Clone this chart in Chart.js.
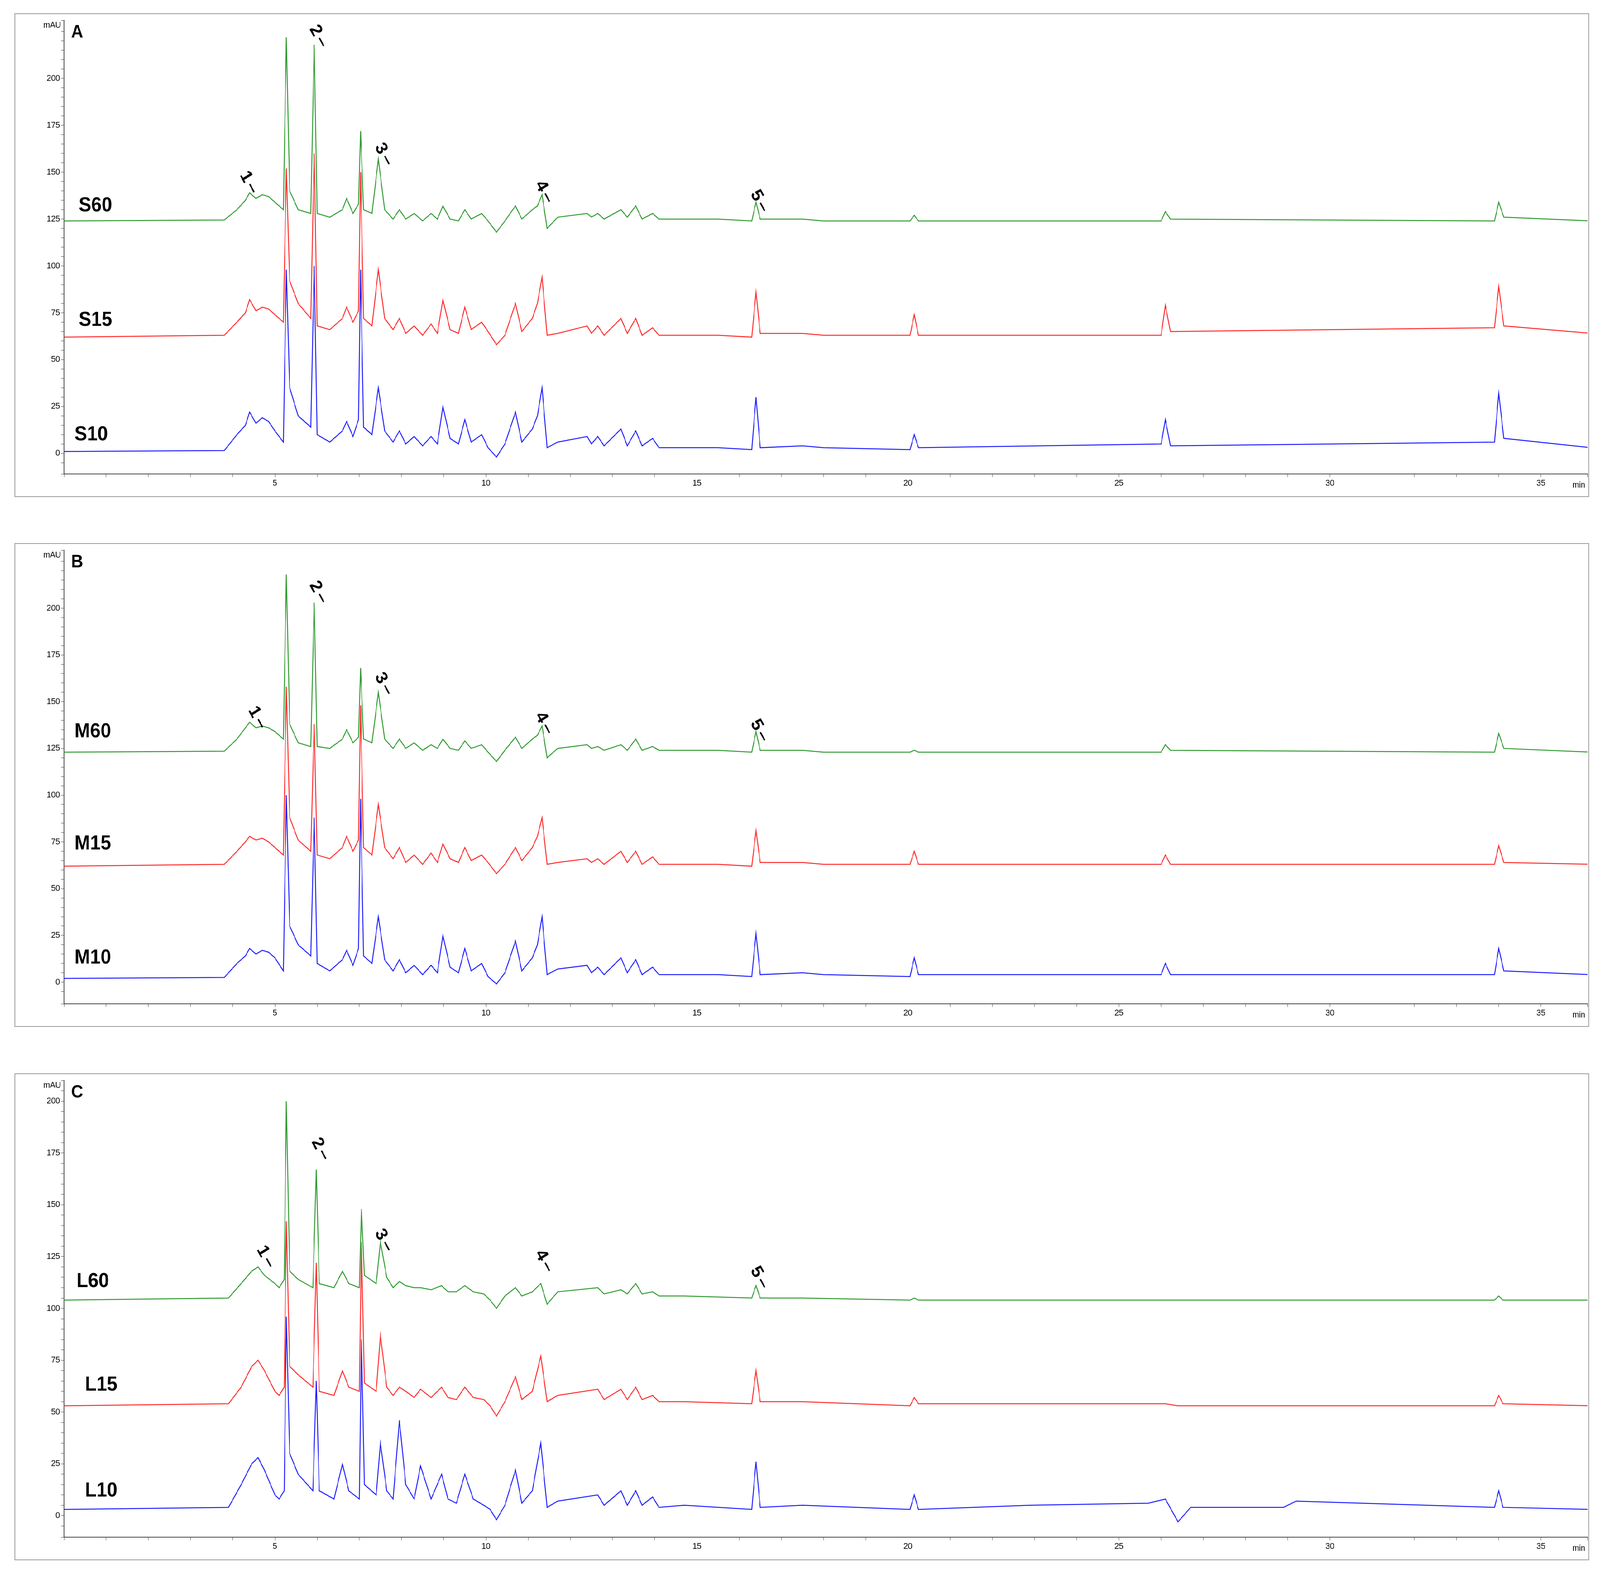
<!DOCTYPE html>
<html>
<head>
<meta charset="utf-8">
<script src="https://cdn.jsdelivr.net/npm/chart.js@4"></script>
<style>
  html, body { margin: 0; padding: 0; background: #fff; overflow: hidden; }
  #page { width: 4430px; height: 4018px; position: absolute; left: 0; top: 0; transform-origin: 0 0; }
  .panel { position: absolute; left: 40px; width: 4360px; border: 2px solid #999; box-sizing: border-box; }
  canvas { display: block; }
</style>
</head>
<body>
<div id="page">
<div class="panel" style="top:34px;height:1238px"><canvas id="chartA" width="4356" height="1234" style="width:4356px;height:1234px"></canvas></div>
<div class="panel" style="top:1390px;height:1238px"><canvas id="chartB" width="4356" height="1234" style="width:4356px;height:1234px"></canvas></div>
<div class="panel" style="top:2747px;height:1246px"><canvas id="chartC" width="4356" height="1242" style="width:4356px;height:1242px"></canvas></div>
</div>
<script>
'use strict';

// stretch the 4430x4018 page over whatever viewport we get
let page = document.getElementById('page');
page.style.transform = 'scale(' + (window.innerWidth / 4430) + ',' + (window.innerHeight / 4018) + ')';

// retention times (min) shared by panels A and B
let timesAB = [0,3.8,4.1,4.3,4.4,4.55,4.7,4.85,5.0,5.2,5.27,5.35,5.55,5.85,5.93,6.0,6.3,6.6,6.7,6.85,6.98,7.03,7.1,7.3,7.45,7.6,7.8,7.95,8.1,8.3,8.5,8.7,8.85,8.98,9.15,9.35,9.5,9.65,9.9,10.05,10.25,10.45,10.7,10.85,11.1,11.22,11.33,11.45,11.7,12.4,12.5,12.65,12.8,13.2,13.35,13.55,13.7,13.95,14.1,15.5,16.3,16.4,16.5,17.5,18,20.05,20.15,20.25,26.0,26.1,26.22,33.9,34.0,34.12,36.2];
// retention times for panel C
let timesC = [0,3.9,4.2,4.45,4.6,4.75,5.0,5.1,5.22,5.27,5.35,5.55,5.9,5.98,6.05,6.4,6.6,6.75,7.0,7.05,7.12,7.4,7.5,7.65,7.8,7.95,8.1,8.3,8.45,8.7,8.95,9.1,9.3,9.5,9.7,9.95,10.1,10.25,10.45,10.7,10.85,11.1,11.3,11.45,11.7,12.65,12.8,13.2,13.35,13.55,13.7,13.95,14.1,14.7,16.3,16.4,16.5,17.5,20.05,20.15,20.25,22.9,25.7,26.1,26.4,26.7,28.9,29.2,33.9,34.0,34.1,36.2];

// mAU values
let s10 = [1,1.5,10,15,22,16,19,17,12,6,98,35,20,14,100,10,6,12,17,9,18,98,14,10,35,12,6,12,5,9,4,9,5,25,8,5,18,6,10,3,-2,5,22,6,13,20,35,3,6,9,5,9,4,13,4,12,4,8,3,3,2,30,3,4,3,2,10,3,5,18,4,6,32,8,3];
let s15 = [62,63,70,75,82,76,78,77,74,70,152,92,80,72,160,68,66,72,78,70,76,150,72,68,98,72,66,72,64,68,63,69,64,82,66,64,78,66,70,65,58,63,80,65,72,80,94,63,64,68,64,68,63,72,64,72,63,67,63,63,62,86,64,64,63,63,74,63,63,79,65,67,89,68,64];
let s60 = [124,124.5,130,135,139,136,138,137,134,130,222,140,130,128,218,128,126,130,136,128,133,172,130,128,157,130,125,130,125,128,124,128,125,132,125,124,130,125,128,124,118,124,132,125,130,132,138,120,126,128,126,128,125,130,126,132,125,128,125,125,124,134,125,125,124,124,127,124,124,129,125,124,134,126,124];
let m10 = [2,2.5,10,14,18,15,17,16,13,6,100,30,20,14,88,10,6,12,17,9,18,98,14,10,35,12,6,12,5,9,4,9,5,25,8,5,18,6,10,3,-1,5,22,6,13,20,35,4,7,9,5,8,4,13,5,12,4,8,4,4,3,26,4,5,4,3,13,4,4,10,4,4,18,6,4];
let m15 = [62,63,70,75,78,76,77,75,72,68,158,88,76,70,138,68,66,72,78,70,76,148,72,68,95,72,66,72,64,68,63,69,64,74,66,64,72,65,68,64,58,63,72,65,72,78,88,63,64,66,64,66,63,70,64,70,63,67,63,63,62,81,64,64,63,63,70,63,63,68,63,63,73,64,63];
let m60 = [123,123.5,130,136,139,136,137,136,134,130,218,138,128,126,203,126,125,130,135,128,131,168,130,128,155,130,125,130,125,128,124,127,125,130,125,124,129,125,127,123,118,124,131,125,130,132,137,120,125,127,125,126,124,127,124,130,124,126,124,124,123,134,124,124,123,123,124,123,123,127,124,123,133,125,123];
let l10 = [3,4,15,25,28,22,10,8,12,96,30,20,12,65,12,8,25,12,8,85,15,10,35,12,8,46,15,8,24,8,20,8,6,20,8,5,3,-2,5,22,6,12,35,4,7,10,5,12,5,12,5,9,4,5,3,26,4,5,3,10,3,5,6,8,-3,4,4,7,4,12,4,3];
let l15 = [53,54,62,72,75,70,60,58,62,142,72,68,62,122,60,58,70,62,60,132,64,60,87,62,58,62,60,57,61,57,62,57,56,62,57,56,53,48,55,67,56,60,77,55,58,61,56,61,56,62,56,58,55,55,54,70,55,55,53,57,54,54,54,54,53,53,53,53,53,58,54,53];
let l60 = [104,105,112,118,120,116,112,110,114,200,118,114,110,167,112,110,118,112,110,148,116,112,132,115,110,113,111,110,110,109,111,108,108,111,108,107,104,100,106,110,106,108,112,102,108,110,107,109,107,112,107,108,106,106,105,111,105,105,104,105,104,104,104,104,104,104,104,104,104,106,104,104];

// peak numbers: [time, mAU]
let peakNames = ['1','2','3','4','5'];
let peaksA = [[4.3,148],[5.95,226],[7.5,163],[11.3,143],[16.4,138]];
let peaksB = [[4.5,145],[5.95,212],[7.5,163],[11.3,142],[16.4,138]];
let peaksC = [[4.7,128],[6.0,180],[7.5,136],[11.3,126],[16.4,118]];

// sample labels: [name, time, mAU]
let labelsA = [['S60',0.35,132],['S15',0.35,71],['S10',0.25,10]];
let labelsB = [['M60',0.25,134],['M15',0.25,74],['M10',0.25,13]];
let labelsC = [['L60',0.3,113],['L15',0.5,63],['L10',0.5,12]];

const green = '#2f9a2f', red = '#ff2a2a', blue = '#1e1eff';

function toPoints(times, vals){
  return vals.map((v, i) => ({x: times[i], y: v}));
}

const decor = {
  id: 'decor',
  afterDatasetsDraw(chart, args, opts){
    const ctx = chart.ctx, xs = chart.scales.x, ys = chart.scales.y;
    ctx.save();
    ctx.fillStyle = '#000';
    // peak numbers
    ctx.font = 'bold 46px Arial';
    ctx.textBaseline = 'middle';
    ctx.textAlign = 'left';
    opts.peaks.forEach((p, i) => {
      ctx.save();
      ctx.translate(xs.getPixelForValue(p[0]), ys.getPixelForValue(p[1]));
      ctx.rotate(Math.PI / 3);
      ctx.fillText(peakNames[i], -10, 0);
      ctx.fillRect(24, -2, 24, 4);
      ctx.restore();
    });
    // sample names
    ctx.font = 'bold 52px Arial';
    opts.labels.forEach(l => {
      ctx.fillText(l[0], xs.getPixelForValue(l[1]), ys.getPixelForValue(l[2]));
    });
    // panel letter, units
    ctx.font = 'bold 46px Arial';
    ctx.textBaseline = 'top';
    ctx.fillText(opts.letter, chart.chartArea.left + 20, chart.chartArea.top + 8);
    ctx.font = '22px Arial';
    ctx.textAlign = 'right';
    ctx.fillText('mAU', chart.chartArea.left - 8, chart.chartArea.top + 2);
    ctx.fillText('min', chart.chartArea.right - 6, chart.chartArea.bottom + 18);
    ctx.restore();
  }
};

function makeChart(id, times, series, yMin, yMax, peaks, labels, letter){
  const colors = [green, red, blue];
  new Chart(document.getElementById(id), {
    type: 'line',
    data: {
      datasets: series.map((s, i) => ({
        data: toPoints(times, s),
        borderColor: colors[i],
        borderWidth: 2.5,
        pointRadius: 0,
        tension: 0
      }))
    },
    options: {
      responsive: false,
      devicePixelRatio: 1,
      animation: false,
      layout: {padding: 0},
      plugins: {
        legend: {display: false},
        tooltip: {enabled: false},
        decor: {peaks: peaks, labels: labels, letter: letter}
      },
      scales: {
        x: {
          type: 'linear',
          min: 0,
          max: 36.1,
          afterFit: s => { s.height = 57; },
          border: {color: '#444', width: 2},
          grid: {drawOnChartArea: false, tickLength: 8, color: '#444'},
          ticks: {
            stepSize: 1, autoSkip: false, maxRotation: 0,
            font: {size: 22, family: 'Arial'}, color: '#000',
            callback: v => (v > 0 && v % 5 === 0) ? v : ''
          }
        },
        y: {
          min: yMin,
          max: yMax,
          afterFit: s => { s.width = 135; },
          border: {color: '#444', width: 2},
          grid: {drawOnChartArea: false, tickLength: 8, color: '#444'},
          ticks: {
            stepSize: 5, autoSkip: false,
            font: {size: 22, family: 'Arial'}, color: '#000',
            callback: v => (v >= 0 && v <= 200 && v % 25 === 0) ? v : ''
          }
        }
      }
    },
    plugins: [decor]
  });
}

makeChart('chartA', timesAB, [s60, s15, s10], -11, 231, peaksA, labelsA, 'A');
makeChart('chartB', timesAB, [m60, m15, m10], -11.6, 231, peaksB, labelsB, 'B');
makeChart('chartC', timesC, [l60, l15, l10], -10.4, 210, peaksC, labelsC, 'C');
</script>
</body>
</html>
